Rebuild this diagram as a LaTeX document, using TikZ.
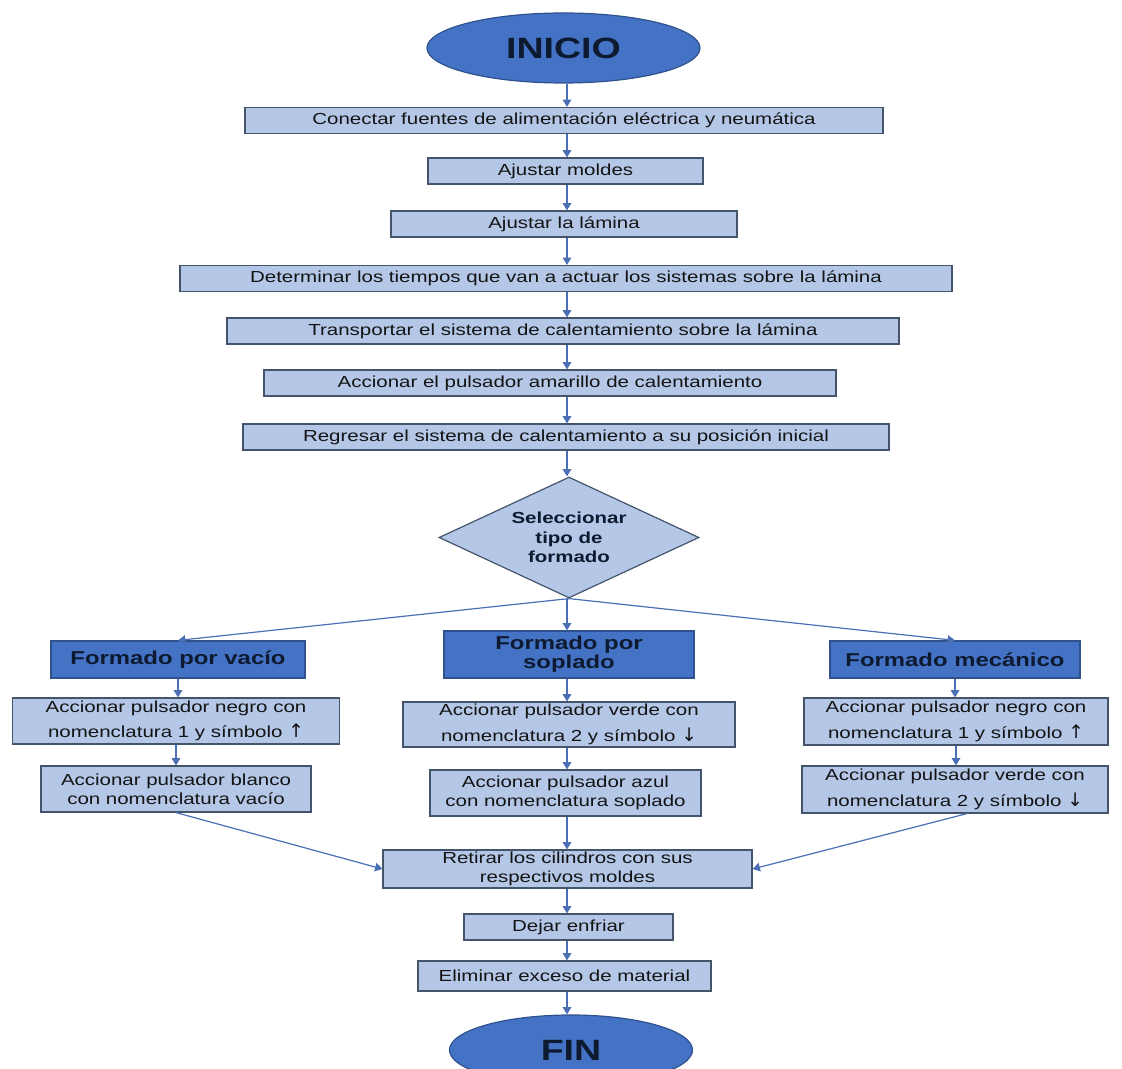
\documentclass[tikz,border=0pt]{standalone}
\usepackage{fontspec}
\setmainfont{Liberation Sans}[FakeStretch=1.28]
\newfontfamily\arrowfont{DejaVu Sans}
\usetikzlibrary{arrows.meta, positioning, shapes.geometric}
\definecolor{fpale}{HTML}{B4C7E7}
\definecolor{fblue}{HTML}{4472C4}
\definecolor{fedge}{HTML}{44546A}
\definecolor{fdark}{HTML}{2F528F}
\definecolor{farrow}{HTML}{4A6FB5}
\definecolor{fnavy}{HTML}{0E1A30}
\definecolor{ftext}{HTML}{141414}
\newcommand{\up}{{\arrowfont\fontsize{14}{14}\selectfont ↑}}
\newcommand{\down}{{\arrowfont\fontsize{14}{14}\selectfont ↓}}
\tikzset{
	wd/.style={minimum width=#1*0.75pt},
	ht/.style={minimum height=#1*0.75pt},
	pbox/.style={draw=fedge, fill=fpale, line width=0.9pt, align=center, inner sep=1pt,
		font=\fontsize{12}{14.5}\selectfont, text=ftext, ht=26},
	loose/.style={font=\fontsize{12}{19}\selectfont, inner sep=0pt},
	hbox/.style={draw=fdark, fill=fblue, line width=0.9pt, align=center, inner sep=1pt,
		font=\fontsize{14}{14.5}\selectfont\bfseries, text=fnavy, ht=37},
	tnode/.style={ellipse, draw=fdark, fill=fblue, line width=0.9pt, inner sep=0pt,
		font=\fontsize{22}{22}\selectfont\bfseries, text=fnavy, ht=70},
	dnode/.style={diamond, aspect=2.15, draw=fedge, fill=fpale, line width=0.9pt, inner sep=0pt,
		align=center, font=\fontsize{12}{14.5}\selectfont\bfseries, text=fnavy},
	farr/.style={-{Triangle[length=5.5pt, width=6.5pt]}, line width=0.9pt, draw=farrow}
}

\begin{document}
\begin{tikzpicture}[x=0.75pt, y=-0.75pt]
	\useasboundingbox (0,0) rectangle (1122,1069);
	\clip (0,0) rectangle (1122,1069);
	\coordinate (spine) at (567,0);

	\node[tnode, wd=273] (inicio) at (563.5,48) {INICIO};
	\node[pbox, wd=638] (fuentes) at (564,120.5) {Conectar fuentes de alimentación eléctrica y neumática};
	\node[pbox, wd=275] (moldes) at (565.5,171) {Ajustar moldes};
	\node[pbox, wd=346] (lamina) at (564,224) {Ajustar la lámina};
	\node[pbox, wd=772] (tiempos) at (566,278.5) {Determinar los tiempos que van a actuar los sistemas sobre la lámina};
	\node[pbox, wd=672] (transp) at (563,331) {Transportar  el sistema de calentamiento sobre la lámina};
	\node[pbox, wd=572] (amarillo) at (550,383) {Accionar el pulsador amarillo de calentamiento};
	\node[pbox, wd=646] (regresar) at (566,437) {Regresar el sistema de calentamiento a su posición inicial};
	\node[dnode, wd=260, ht=121] (tipo) at (569,537.5) {Seleccionar\\tipo de\\formado};

	\node[hbox, wd=254] (vacio) at (178,659.5) {Formado por vacío};
	\node[hbox, wd=250, ht=47] (soplado) at (569,654.5) {Formado por\\soplado};
	\node[hbox, wd=250] (mecanico) at (955,659.5) {Formado mecánico};

	\node[pbox, loose, wd=327, ht=46] (vnegro) at (176,721) {Accionar pulsador negro con\\nomenclatura 1 y símbolo \up};
	\node[pbox, wd=270, ht=46] (vblanco) at (176,789) {Accionar pulsador blanco\\con nomenclatura vacío};
	\node[pbox, loose, wd=332, ht=45] (sverde) at (569,724.5) {Accionar pulsador verde con\\nomenclatura 2 y símbolo \down};
	\node[pbox, wd=271, ht=46] (sazul) at (565.5,793) {Accionar pulsador azul\\con nomenclatura soplado};
	\node[pbox, loose, wd=304, ht=47] (mnegro) at (956,721.5) {Accionar pulsador negro con\\nomenclatura 1 y símbolo \up};
	\node[pbox, loose, wd=306, ht=47] (mverde) at (955,789.5) {Accionar pulsador verde con\\nomenclatura 2 y símbolo \down};

	\node[pbox, wd=369, ht=38] (retirar) at (567.5,869) {Retirar los cilindros con sus\\respectivos moldes};
	\node[pbox, wd=209] (enfriar) at (568.5,927) {Dejar enfriar};
	\node[pbox, wd=293, ht=30] (eliminar) at (564.5,976) {Eliminar exceso de material};
	\node[tnode, wd=243] (fin) at (571,1050) {FIN};

	\foreach \a/\b in {inicio/fuentes, fuentes/moldes, moldes/lamina, lamina/tiempos, tiempos/transp,
		transp/amarillo, amarillo/regresar, regresar/tipo, tipo/soplado, soplado/sverde, sverde/sazul,
		sazul/retirar, retirar/enfriar, enfriar/eliminar, eliminar/fin}
		\draw[farr] (\a.south -| spine) -- (\b.north -| spine);
	\foreach \a/\b in {vacio/vnegro, vnegro/vblanco, mecanico/mnegro, mnegro/mverde}
		\draw[farr] (\a.south) -- (\a.south |- \b.north);
	\draw[farr] (tipo.south) -- (vacio.north);
	\draw[farr] (tipo.south) -- (mecanico.north);
	\draw[farr] (vblanco.south) -- (retirar.west);
	\draw[farr] ([xshift=9pt]mverde.south) -- (retirar.east);
\end{tikzpicture}
\end{document}
